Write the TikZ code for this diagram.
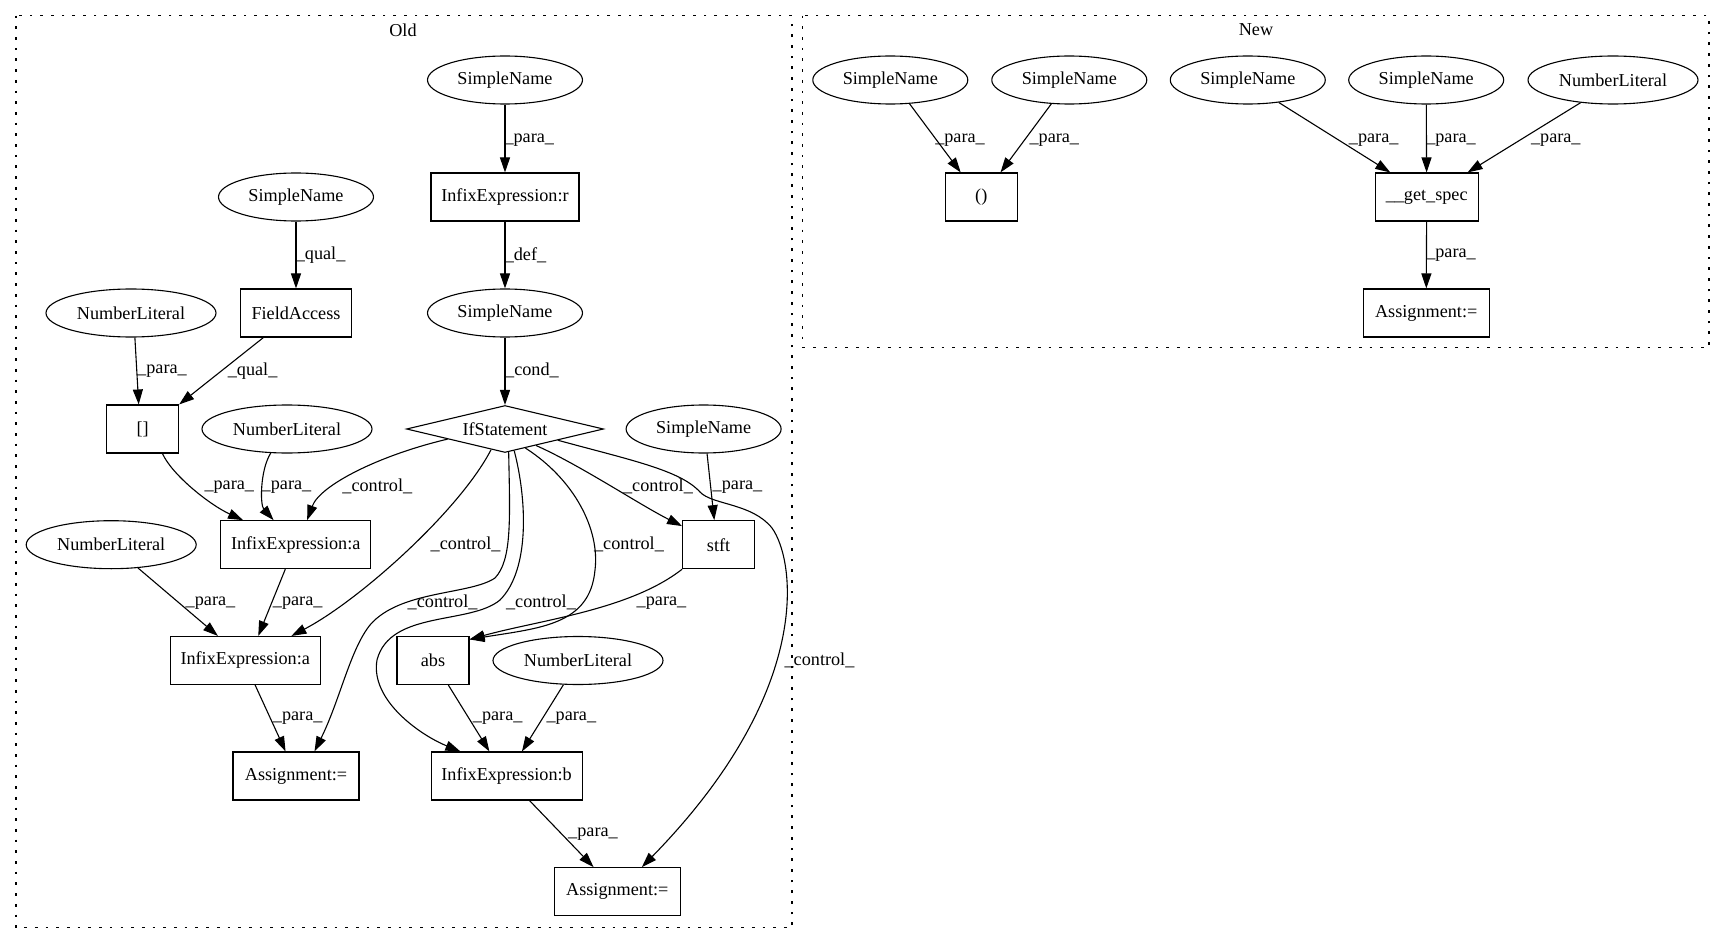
\documentclass[tikz,border=0pt]{standalone}
\usepackage{fontspec}
\setmainfont{Liberation Serif}
\usetikzlibrary{shapes.geometric, arrows.meta}

\tikzset{
  sname/.style={ellipse, draw, line width=1.1pt, minimum width=155pt, minimum height=48pt, inner sep=0pt},
  numlit/.style={sname, minimum width=170pt},
  astbox/.style={rectangle, draw, line width=1.1pt, minimum height=48pt, inner sep=0pt},
  ifnode/.style={diamond, draw, line width=1.1pt, aspect=4.2, minimum width=197pt, minimum height=47pt, inner sep=0pt},
  elabel/.style={inner sep=0pt},
  ast/.style={-{Triangle[length=15pt, width=10pt]}, line width=1.1pt},
  cluster/.style={draw, line width=1.2pt, dash pattern=on 2.7pt off 8pt}
}

\begin{document}
\begin{tikzpicture}[x=1pt, y=-1pt, font=\fontsize{18.2}{22}\selectfont]
        \useasboundingbox (0,0) rectangle (1725,944);
        \draw[cluster] (16,15.7) rectangle (792,927.7);
        \draw[cluster] (802.7,15.7) rectangle (1709,347.7);
        \node (oldTitle) at (403,30) {Old};
        \node (newTitle) at (1256,30) {New};

        % Old
        \node[sname] (snTop) at (505,80) {SimpleName};
        \node[astbox, minimum width=148pt] (infR) at (505,197) {InfixExpression:r};
        \node[sname] (snCond) at (505,313) {SimpleName};
        \node[ifnode] (ifs) at (505,429) {IfStatement};
        \node[sname] (snQual) at (296,197) {SimpleName};
        \node[astbox, minimum width=111pt] (fAcc) at (296,313) {FieldAccess};
        \node[numlit] (nlIdx) at (131,313) {NumberLiteral};
        \node[astbox, minimum width=72pt] (arrIdx) at (142.6,429) {[]};
        \node[numlit] (nlInner) at (287,429) {NumberLiteral};
        \node[sname] (snStft) at (703.6,429) {SimpleName};
        \node[numlit] (nlOuter) at (111.2,544.7) {NumberLiteral};
        \node[astbox, minimum width=150pt] (infA1) at (295.7,544.7) {InfixExpression:a};
        \node[astbox, minimum width=72pt] (stft) at (718.6,544.7) {stft};
        \node[astbox, minimum width=150pt] (infA2) at (245.2,660.5) {InfixExpression:a};
        \node[astbox, minimum width=72pt] (absN) at (433,660.5) {abs};
        \node[numlit] (nlB) at (578,660.5) {NumberLiteral};
        \node[astbox, minimum width=126pt] (asgA) at (296,776) {Assignment:=};
        \node[astbox, minimum width=151pt] (infB) at (506.6,776) {InfixExpression:b};
        \node[astbox, minimum width=126pt] (asgB) at (617.3,891.7) {Assignment:=};

        \draw[ast] (snTop) -- (infR) node[elabel] at (529.3,140) {\_para\_};
        \draw[ast] (infR) -- (snCond) node[elabel] at (525.5,255) {\_def\_};
        \draw[ast] (snCond) -- (ifs) node[elabel] at (532,370.7) {\_cond\_};
        \draw[ast] (snQual) -- (fAcc) node[elabel] at (320.6,255) {\_qual\_};
        \draw[ast] (nlIdx.279) -- (arrIdx.99) node[elabel] at (162,370.7) {\_para\_};
        \draw[ast] (fAcc.217) -- (arrIdx.north east) node[elabel] at (252.6,370.7) {\_qual\_};
        \draw[ast] (arrIdx.309) .. controls (172,475) and (210,505) .. (infA1.155) node[elabel] at (229.3,486.7) {\_para\_};
        \draw[ast] (nlInner.236) .. controls (260,470) and (260,505) .. (infA1.132) node[elabel] at (286.5,486.7) {\_para\_};
        \draw[ast] (ifs.190) .. controls (380,455) and (320,485) .. (infA1.65) node[elabel] at (377.3,486.7) {\_control\_};
        \draw[ast] (nlOuter.319) -- (infA2.138) node[elabel] at (210.5,602.7) {\_para\_};
        \draw[ast] (infA1.247) -- (infA2.62) node[elabel] at (297.7,602.7) {\_para\_};
        \draw[ast] (ifs.236) .. controls (460,510) and (360,600) .. (infA2.28) node[elabel] at (465.6,544) {\_control\_};
        \draw[ast] (infA2.292) -- (asgA.113) node[elabel] at (297.7,718.3) {\_para\_};
        \draw[ast] (ifs.279) .. controls (510,520) and (512,560) .. (495,578)
                .. controls (470,595) and (400,590) .. (370,625)
                .. controls (350,650) and (340,700) .. (asgA.53) node[elabel] at (442.6,602.7) {\_control\_};
        \draw[ast] (ifs.293) .. controls (527,500) and (530,570) .. (500,600)
                .. controls (470,625) and (390,610) .. (377,660)
                .. controls (370,700) and (420,735) .. (infB.152) node[elabel] at (541,602.7) {\_control\_};
        \draw[ast] (ifs.317) .. controls (575,480) and (600,530) .. (595,570)
                .. controls (590,625) and (540,628) .. (absN.30) node[elabel] at (629,544) {\_control\_};
        \draw[ast] (stft.south west) .. controls (630,610) and (540,620) .. (absN.30) node[elabel] at (661.5,602.7) {\_para\_};
        \draw[ast] (ifs.332) .. controls (580,465) and (640,505) .. (stft.153) node[elabel] at (658,486.7) {\_control\_};
        \draw[ast] (snStft.278) -- (stft.100) node[elabel] at (737.5,486.7) {\_para\_};
        \draw[ast] (ifs.348) .. controls (630,460) and (680,470) .. (700,492)
                .. controls (712,505) and (752,503) .. (772,528)
                .. controls (795,560) and (815,690) .. (asgB.45) node[elabel] at (819.5,660) {\_control\_};
        \draw[ast] (absN.302) -- (infB.125) node[elabel] at (497.7,718.3) {\_para\_};
        \draw[ast] (nlB.239) -- (infB.58) node[elabel] at (571.4,718.3) {\_para\_};
        \draw[ast] (infB.313) -- (asgB.134) node[elabel] at (593,834.3) {\_para\_};

        % New
        \node[sname] (snP1) at (890.3,80) {SimpleName};
        \node[sname] (snP2) at (1069.3,80) {SimpleName};
        \node[sname] (snS1) at (1247.8,80) {SimpleName};
        \node[sname] (snS2) at (1426.2,80) {SimpleName};
        \node[numlit] (nlS) at (1613,80) {NumberLiteral};
        \node[astbox, minimum width=72pt] (tup) at (981.3,197) {()};
        \node[astbox, minimum width=103pt] (getSpec) at (1426.7,197) {\_\_get\_spec};
        \node[astbox, minimum width=126pt] (asgC) at (1426.2,313) {Assignment:=};

        \draw[ast] (snP1.309) -- (tup.130) node[elabel] at (960,140) {\_para\_};
        \draw[ast] (snP2.233) -- (tup.52) node[elabel] at (1054.3,140) {\_para\_};
        \draw[ast] (snS1.324) -- (getSpec.146) node[elabel] at (1373.7,140) {\_para\_};
        \draw[ast] (snS2) -- (getSpec) node[elabel] at (1451,140) {\_para\_};
        \draw[ast] (nlS.215) -- (getSpec.31) node[elabel] at (1555.8,140) {\_para\_};
        \draw[ast] (getSpec) -- (asgC) node[elabel] at (1451,255) {\_para\_};
      \end{tikzpicture}
\end{document}
